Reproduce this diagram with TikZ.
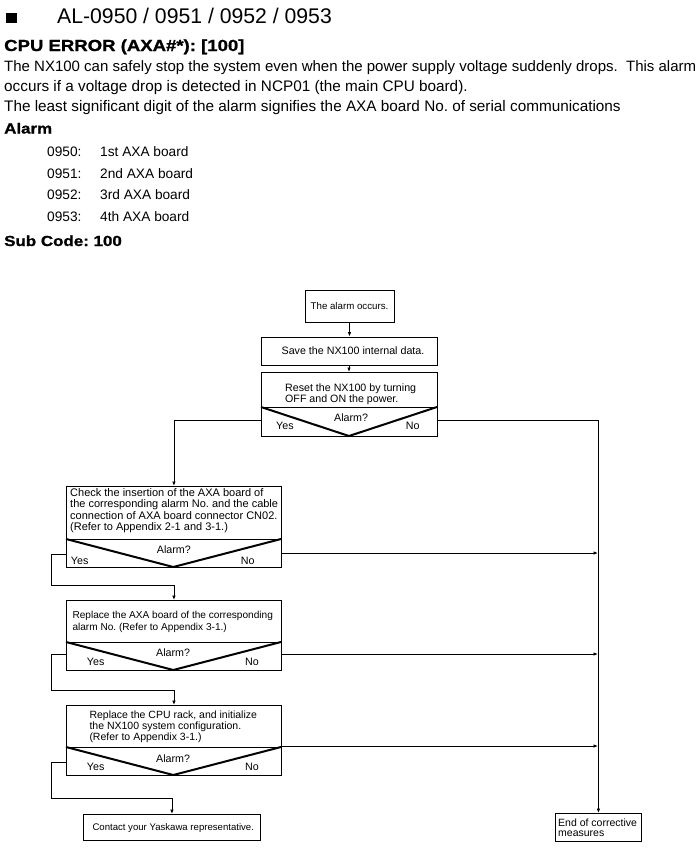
\documentclass[tikz,border=0pt]{standalone}
\usepackage{fontspec}
\setmainfont{Liberation Sans}
\newfontfamily\bwfont[FakeStretch=1.16,FakeBold=1.2]{Liberation Sans Bold}
\usetikzlibrary{arrows.meta}
\begin{document}
\frenchspacing
\begin{tikzpicture}[x=1pt,y=-1pt,
  lbl/.style={anchor=base west, inner sep=0pt},
  headtxt/.style={lbl, font=\fontsize{21.2}{24}\selectfont},
  boldtxt/.style={lbl, font=\bwfont\fontsize{16}{19}\selectfont},
  boldsm/.style={lbl, font=\bwfont\fontsize{14.6}{18}\selectfont},
  bodytxt/.style={lbl, font=\fontsize{15.3}{18}\selectfont},
  itemtxt/.style={lbl, font=\fontsize{13.7}{16}\selectfont},
  ft/.style={lbl, font=\fontsize{10.7}{12}\selectfont},
  fs/.style={lbl, font=\fontsize{#1}{12}\selectfont},
  box/.style={draw, line width=0.9pt, rectangle, inner sep=0pt},
  vline/.style={line width=2pt, line join=miter},
  conn/.style={line width=0.9pt},
  arr/.style={conn, -{Latex[length=4.5pt,width=3.6pt]}}
]
\useasboundingbox (0,0) rectangle (699,857);

% ---------- header text ----------
\node[fill=black, inner sep=0pt, minimum width=10.7pt, minimum height=10.4pt, anchor=north west] (sq) at (6,12.3) {};
\node[headtxt] (title) at (57,23) {AL-0950 / 0951 / 0952 / 0953};
\node[boldtxt] (cpu) at (4,51) {CPU ERROR (AXA\#*): [100]};
\node[lbl, font=\fontsize{15.0}{18}\selectfont] (b1) at (4,71.5) {The NX100 can safely stop the system even when the power supply voltage suddenly drops.\ \ This alarm};
\node[bodytxt] (b2) at (4,91.5) {occurs if a voltage drop is detected in NCP01 (the main CPU board).};
\node[bodytxt] (b3) at (4,111.5) {The least significant digit of the alarm signifies the AXA board No. of serial communications};
\node[boldsm] (alarmhd) at (4,133.5) {Alarm};
\node[itemtxt] (n0) at (47,156) {0950:};
\node[itemtxt] (t0) at (100,156) {1st AXA board};
\node[itemtxt] (n1) at (47,178) {0951:};
\node[itemtxt] (t1) at (100,178) {2nd AXA board};
\node[itemtxt] (n2) at (47,199) {0952:};
\node[itemtxt] (t2) at (100,199) {3rd AXA board};
\node[itemtxt] (n3) at (47,221) {0953:};
\node[itemtxt] (t3) at (100,221) {4th AXA board};
\node[boldsm] (sub) at (4,246) {Sub Code: 100};

% ---------- flowchart boxes ----------
\node[box, minimum width=89pt, minimum height=32pt, font=\fontsize{9.7}{12}\selectfont] (occ) at (349.5,306) {The alarm occurs.};
\node[box, minimum width=176pt, minimum height=28pt, font=\fontsize{10.7}{12}\selectfont] (save) at (349,351) {\hspace*{8pt}Save the NX100 internal data.};

% Reset decision
\node[box, minimum width=176pt, minimum height=64pt, anchor=north west] (reset) at (261,372) {};
\draw[conn] (261,407) -- (437,407);
\draw[vline] (261,407) -- (349,436) -- (437,407);
\node[fs=10.66] (r1) at (285,391.7) {Reset the NX100 by turning};
\node[fs=10.66] (r2) at (285,402.3) {OFF and ON the power.};
\node[ft] (rq) at (334,421) {Alarm?};
\node[ft] (ry) at (276,429.5) {Yes};
\node[ft] (rn) at (405.7,429.5) {No};

% Check decision
\node[box, minimum width=215pt, minimum height=81pt, anchor=north west] (check) at (66,486) {};
\draw[conn] (66,539) -- (281,539);
\draw[vline] (66,539) -- (173.3,567) -- (281,539);
\node[fs=11] (c1) at (70,496) {Check the insertion of the AXA board of};
\node[fs=11] (c2) at (70,507.5) {the corresponding alarm No. and the cable};
\node[fs=11] (c3) at (70,519) {connection of AXA board connector CN02.};
\node[fs=11] (c4) at (70,530.5) {(Refer to Appendix 2-1 and 3-1.)};
\node[ft] (cq) at (156.7,553) {Alarm?};
\node[ft] (cy) at (70.7,564) {Yes};
\node[ft] (cn) at (240.7,564) {No};

% Replace AXA decision
\node[box, minimum width=215pt, minimum height=70pt, anchor=north west] (axa) at (66,600) {};
\draw[conn] (66,642) -- (281,642);
\draw[vline] (66,642) -- (173.3,670) -- (281,642);
\node[fs=10.1] (a1) at (72.3,618.3) {Replace the AXA board of the corresponding};
\node[fs=10.1] (a2) at (72.3,630) {alarm No. (Refer to Appendix 3-1.)};
\node[ft] (aq) at (156,656.5) {Alarm?};
\node[ft] (ay) at (86.7,665) {Yes};
\node[ft] (an) at (245,665) {No};

% Replace CPU decision
\node[box, minimum width=215pt, minimum height=70pt, anchor=north west] (cpur) at (66,705) {};
\draw[conn] (66,747) -- (281,747);
\draw[vline] (66,747) -- (173.3,775) -- (281,747);
\node[fs=10.5] (p1) at (89.3,718) {Replace the CPU rack, and initialize};
\node[fs=10.5] (p2) at (89.3,729.3) {the NX100 system configuration.};
\node[fs=10.5] (p3) at (89.3,740.7) {(Refer to Appendix 3-1.)};
\node[ft] (pq) at (156,762.7) {Alarm?};
\node[ft] (py) at (86.7,770) {Yes};
\node[ft] (pn) at (245,770) {No};

% End boxes
\node[box, minimum width=177pt, minimum height=26pt, anchor=north west] (contact) at (83,814) {};
\node[fs=9.6] (ct) at (92.3,830.7) {Contact your Yaskawa representative.};
\node[box, minimum width=86pt, minimum height=28pt, anchor=north west] (endb) at (555,813) {};
\node[fs=10.5] (e1) at (558,826) {End of corrective};
\node[fs=10.5] (e2) at (558,836.7) {measures};

% ---------- connectors ----------
\coordinate (rY) at (261,420);
\coordinate (rN) at (437,420);
\coordinate (cY) at (66,554);
\coordinate (cN) at (281,553);
\coordinate (aY) at (66,654);
\coordinate (aN) at (281,654);
\coordinate (pY) at (66,762);
\coordinate (pN) at (281,746);
\coordinate (rail) at (598,420);

\draw[arr] (occ.south) -- (occ.south |- save.north);
\draw[arr] (save.south) -- (save.south |- reset.north);
\draw[arr] (rY) -| (check.north);
\draw[arr] (rN) -| (endb.north);
\draw[arr] (cY) -- ++(-15,0) |- ([yshift=15pt]axa.north) -- (axa.north);
\draw[arr] (aY) -- ++(-15,0) |- ([yshift=15pt]cpur.north) -- (cpur.north);
\draw[arr] (pY) -- ++(-15,0) |- ([yshift=16pt]contact.north) -- (contact.north);
\draw[arr] (cN) -- (cN -| rail);
\draw[arr] (aN) -- (aN -| rail);
\draw[arr] (pN) -- (pN -| rail);
\end{tikzpicture}
\end{document}
